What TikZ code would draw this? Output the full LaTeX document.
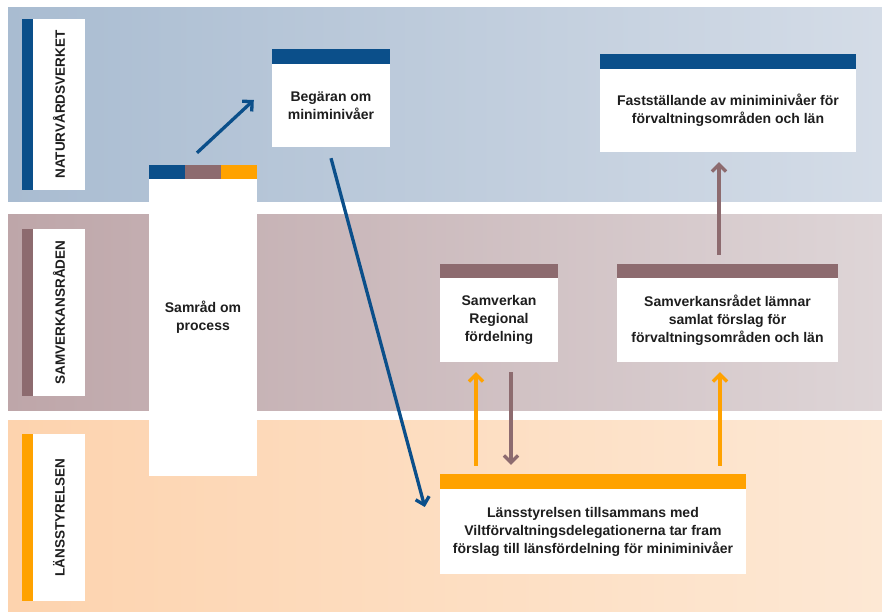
\documentclass[tikz,border=0pt]{standalone}
\usepackage{fontspec}
\setmainfont{Liberation Sans}
\usetikzlibrary{arrows.meta}
\definecolor{navy}{HTML}{0B4F8A}
\definecolor{mauve}{HTML}{8D6B6F}
\definecolor{orng}{HTML}{FFA200}
\definecolor{ink}{HTML}{1E1E1E}
\definecolor{blueL}{HTML}{A9BCD1}
\definecolor{blueR}{HTML}{D4DCE7}
\definecolor{mauveL}{HTML}{BEA6A9}
\definecolor{mauveR}{HTML}{DED5D7}
\definecolor{orngL}{HTML}{FDD3AE}
\definecolor{orngR}{HTML}{FDE8D4}
\begin{document}
\begin{tikzpicture}[x=1pt,y=-1pt,
  card/.style={fill=white, inner sep=0pt, align=center, text=ink,
    font=\bfseries\fontsize{14}{18}\selectfont},
  txt/.style={inner sep=0pt, align=center, text=ink,
    font=\bfseries\fontsize{14}{18}\selectfont},
  lab/.style={fill=white, inner sep=0pt, text=ink, rotate=90,
    font=\bfseries\fontsize{13.5}{16}\selectfont},
  arr/.style={line width=3.3pt, -{Straight Barb[length=7pt,width=14pt]}},
]
\useasboundingbox (0,0) rectangle (882,612);
% bands
\shade[left color=blueL, right color=blueR] (8,8) rectangle (882,202);
\shade[left color=mauveL, right color=mauveR] (8,215) rectangle (882,410);
\shade[left color=orngL, right color=orngR] (8,420) rectangle (882,612);

% lane labels
\node[lab, minimum width=171pt, minimum height=52pt] (nv) at (59,104.5) {NATURVÅRDSVERKET};
\fill[navy] (nv.north west) rectangle ([xshift=-11pt]nv.north east);
\node[lab, minimum width=167pt, minimum height=52pt] (srl) at (59,312.5) {SAMVERKANSRÅDEN};
\fill[mauve] (srl.north west) rectangle ([xshift=-11pt]srl.north east);
\node[lab, minimum width=167pt, minimum height=52pt] (lsl) at (59,517.5) {LÄNSSTYRELSEN};
\fill[orng] (lsl.north west) rectangle ([xshift=-11pt]lsl.north east);

% Samråd box
\node[fill=white, inner sep=0pt, minimum width=108pt, minimum height=297pt] (samrad) at (203,327.5) {};
\fill[navy] (samrad.north west) rectangle ++(36,-14);
\fill[mauve] ([xshift=36pt]samrad.north west) rectangle ++(36,-14);
\fill[orng] ([xshift=72pt]samrad.north west) rectangle ++(36,-14);
\node[txt] (samradtxt) at ([yshift=10pt]samrad.center) {Samråd om\\process};

% cards
\node[card, minimum width=118pt, minimum height=83pt] (beg) at (331,105.5) {Begäran om\\miniminivåer};
\fill[navy] (beg.north west) rectangle ([yshift=15pt]beg.north east);

\node[card, minimum width=256pt, minimum height=83pt] (fast) at (728,110.5) {Fastställande av miniminivåer för\\förvaltningsområden och län};
\fill[navy] (fast.north west) rectangle ([yshift=15pt]fast.north east);

\node[card, minimum width=118pt, minimum height=84pt] (samv) at (499,320) {Samverkan\\Regional\\fördelning};
\fill[mauve] (samv.north west) rectangle ([yshift=14pt]samv.north east);

\node[card, minimum width=221pt, minimum height=84pt] (sr) at (727.5,320) {Samverkansrådet lämnar\\samlat förslag för\\förvaltningsområden och län};
\fill[mauve] (sr.north west) rectangle ([yshift=14pt]sr.north east);

\node[card, minimum width=306pt, minimum height=85pt] (lans) at (593,531.5) {Länsstyrelsen tillsammans med\\Viltförvaltningsdelegationerna tar fram\\förslag till länsfördelning för miniminivåer};
\fill[orng] (lans.north west) rectangle ([yshift=15pt]lans.north east);

% arrows
\draw[arr, navy] ([xshift=-6pt,yshift=26pt]samrad.north) -- ([xshift=-18pt,yshift=5.5pt]beg.west);
\draw[arr, navy] ([yshift=-11pt]beg.south) -- ([xshift=-15pt,yshift=24.5pt]lans.west);
\draw[arr, orng] ([xshift=-117pt,yshift=23pt]lans.north) -- ([xshift=-23pt,yshift=-10pt]samv.south);
\draw[arr, mauve] ([xshift=12pt,yshift=-10pt]samv.south) -- ([xshift=-82pt,yshift=24pt]lans.north);
\draw[arr, orng] ([xshift=127pt,yshift=23pt]lans.north) -- ([xshift=-7.5pt,yshift=-10pt]sr.south);
\draw[arr, mauve] ([xshift=-8.5pt,yshift=23pt]sr.north) -- ([xshift=-9pt,yshift=-10pt]fast.south);
\end{tikzpicture}
\end{document}
